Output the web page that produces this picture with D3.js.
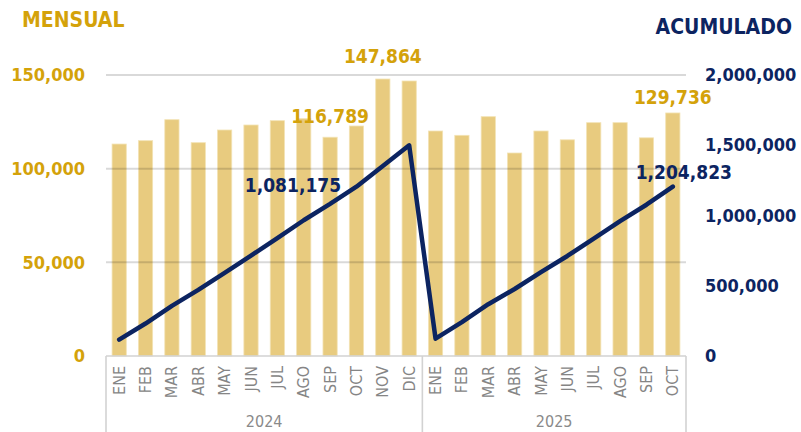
<!DOCTYPE html>
<html><head><meta charset="utf-8">
<script src="https://cdn.jsdelivr.net/npm/d3@7"></script>
<style>
html,body{margin:0;padding:0;background:#fff;}
svg{display:block;}
text{font-family:'DejaVu Sans Condensed','DejaVu Sans',sans-serif;font-stretch:condensed;}
</style></head>
<body>
<svg id="c" width="801" height="432"></svg>
<script>
// ---- data ----
const years = ["2024", "2025"];
const months2024 = ["ENE","FEB","MAR","ABR","MAY","JUN","JUL","AGO","SEP","OCT","NOV","DIC"];
const months2025 = ["ENE","FEB","MAR","ABR","MAY","JUN","JUL","AGO","SEP","OCT"];
const mensual2024 = [113150,114940,126150,113880,120640,123310,125620,126696,116789,122780,147864,146800];
const mensual2025 = [120100,117800,127760,108360,120100,115400,124550,124550,116467,129736];
const acumulado2024 = [113150,228090,354240,468120,588760,712070,837690,964386,1081175,1203955,1351819,1498619];
const acumulado2025 = [120100,237900,365660,474020,594120,709520,834070,958620,1075087,1204823];
const leftTicks = [0,50000,100000,150000];
const rightTicks = [0,500000,1000000,1500000,2000000];
const gridTicks = [50000,100000,150000];

// ---- build rows ----
const rows = [];
months2024.forEach((m,i)=>rows.push({key:"2024-"+m, month:m, year:"2024", mensual:mensual2024[i], acum:acumulado2024[i]}));
months2025.forEach((m,i)=>rows.push({key:"2025-"+m, month:m, year:"2025", mensual:mensual2025[i], acum:acumulado2025[i]}));

const GOLD = "#D4A20A", NAVY = "#0C2461", BAR = "#E8CB7F";
const svg = d3.select("#c");
const x = d3.scaleBand().domain(rows.map(r=>r.key)).range([106,686]).paddingInner(0.46).paddingOuter(0.23);
const yL = d3.scaleLinear().domain([0,150000]).range([356,75]);
const yR = d3.scaleLinear().domain([0,2000000]).range([355.5,75]);

// bars
svg.append("g").selectAll("rect").data(rows).join("rect")
  .attr("x", d=>x(d.key)).attr("width", x.bandwidth())
  .attr("y", d=>yL(d.mensual)).attr("height", d=>yL(0)-yL(d.mensual))
  .attr("fill", BAR).attr("stroke","#f3e3b5").attr("stroke-width",0.8);

// gridlines (over bars, translucent)
svg.append("g").selectAll("line").data(gridTicks).join("line")
  .attr("x1",106).attr("x2",686).attr("y1",d=>yL(d)).attr("y2",d=>yL(d))
  .attr("stroke","rgba(0,0,0,0.15)").attr("stroke-width",2);

// x axis frame
const frame = svg.append("g").attr("stroke","#d2d2d2").attr("stroke-width",1.6);
frame.append("line").attr("x1",106).attr("x2",686).attr("y1",356).attr("y2",356);
const bounds = [x(rows[0].key)-x.step()*x.paddingOuter(), x(rows[12].key)-x.step()*x.paddingInner()/2, 686];
bounds.forEach(b=>frame.append("line").attr("x1",b).attr("x2",b).attr("y1",356).attr("y2",432));

// month labels
svg.append("g").selectAll("text").data(rows).join("text")
  .attr("transform", d=>`translate(${x(d.key)+x.bandwidth()/2},366) rotate(-90)`)
  .attr("text-anchor","end").attr("dominant-baseline","central")
  .attr("font-size",16).attr("fill","#858585").text(d=>d.month);

// year labels
const yearCenters = [(bounds[0]+bounds[1])/2, (bounds[1]+bounds[2])/2];
svg.append("g").selectAll("text").data(years).join("text")
  .attr("x",(d,i)=>yearCenters[i]).attr("y",427)
  .attr("text-anchor","middle").attr("font-size",16).attr("fill","#8a8a8a").text(d=>d);

// line
const line = d3.line().x(d=>x(d.key)+x.bandwidth()/2).y(d=>yR(d.acum));
svg.append("path").datum(rows).attr("d",line)
  .attr("fill","none").attr("stroke",NAVY).attr("stroke-width",4.5)
  .attr("stroke-linejoin","round").attr("stroke-linecap","round");

// axes
const fmt = d3.format(",");
const gL = svg.append("g").attr("transform","translate(85,0)")
  .call(d3.axisLeft(yL).tickValues(leftTicks).tickFormat(fmt).tickSize(0).tickPadding(0));
gL.select(".domain").remove();
gL.selectAll("text").attr("fill",GOLD).attr("font-size",18).attr("font-weight","bold")
  .attr("font-family","'DejaVu Sans Condensed','DejaVu Sans',sans-serif");
const gR = svg.append("g").attr("transform","translate(705,0)")
  .call(d3.axisRight(yR).tickValues(rightTicks).tickFormat(fmt).tickSize(0).tickPadding(0));
gR.select(".domain").remove();
gR.selectAll("text").attr("fill",NAVY).attr("font-size",18).attr("font-weight","bold")
  .attr("font-family","'DejaVu Sans Condensed','DejaVu Sans',sans-serif");

// titles
svg.append("text").attr("x",22).attr("y",27).attr("font-size",21).attr("font-weight","bold")
  .attr("fill",GOLD).text("MENSUAL");
svg.append("text").attr("x",792).attr("y",33.5).attr("text-anchor","end").attr("font-size",21).attr("font-weight","bold")
  .attr("fill",NAVY).text("ACUMULADO");

// data labels
const barLabels = [{i:8, dy:-14.5},{i:10, dy:-16},{i:21, dy:-8.5}];
svg.append("g").selectAll("text").data(barLabels).join("text")
  .attr("x",d=>x(rows[d.i].key)+x.bandwidth()/2).attr("y",d=>yL(rows[d.i].mensual)+d.dy)
  .attr("text-anchor","middle").attr("font-size",19).attr("font-weight","bold")
  .attr("fill",GOLD).text(d=>fmt(rows[d.i].mensual));
const lineLabels = [{i:8, dx:11, dy:-11.5, anchor:"end"},{i:21, dx:11, dy:-7.5, anchor:"middle"}];
svg.append("g").selectAll("text").data(lineLabels).join("text")
  .attr("x",d=>x(rows[d.i].key)+x.bandwidth()/2+d.dx).attr("y",d=>yR(rows[d.i].acum)+d.dy)
  .attr("text-anchor",d=>d.anchor).attr("font-size",19).attr("font-weight","bold")
  .attr("fill",NAVY).text(d=>fmt(rows[d.i].acum));
</script>
</body></html>
